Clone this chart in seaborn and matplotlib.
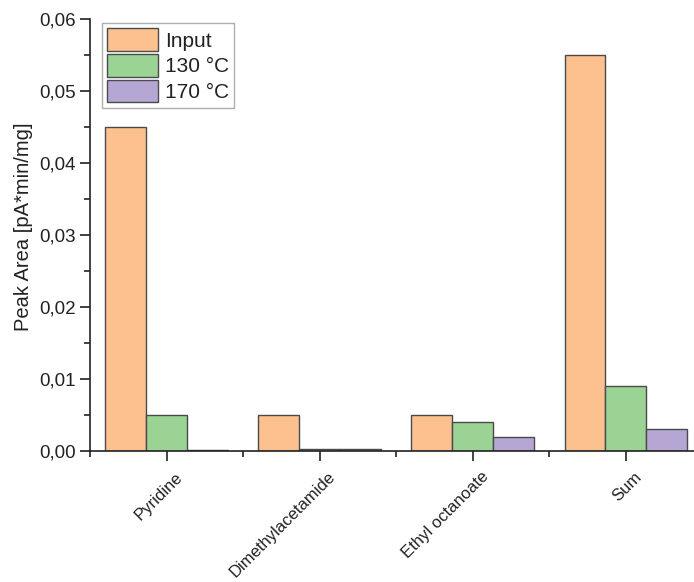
import matplotlib
matplotlib.use("Agg")
import matplotlib.pyplot as plt
from matplotlib.ticker import MultipleLocator, FuncFormatter
from matplotlib.transforms import ScaledTranslation
import seaborn as sns
import pandas as pd

# Peak areas per compound and condition
compounds = ["Pyridine", "Dimethylacetamide", "Ethyl octanoate", "Sum"]
conditions = ["Input", "130 °C", "170 °C"]
input_area = [0.045, 0.005, 0.005, 0.055]
area_130 = [0.005, 0.0003, 0.004, 0.009]
area_170 = [0.0001, 0.0003, 0.002, 0.003]

rows = []
for series_name, values in zip(conditions, [input_area, area_130, area_170]):
    for comp, v in zip(compounds, values):
        rows.append({"Compound": comp, "Condition": series_name, "Area": v})
df = pd.DataFrame(rows)

sns.set_theme(style="ticks")
plt.rcParams["font.family"] = ["Liberation Sans", "DejaVu Sans"]

palette = {"Input": "#FDC18F", "130 °C": "#9AD394", "170 °C": "#B6A6D3"}

fig = plt.figure(figsize=(6.94, 5.82), dpi=100)
ax = fig.add_axes([90 / 694, 1 - 451 / 582, 1 - 90 / 694 + 0.012, (451 - 19) / 582])

sns.barplot(data=df, x="Compound", y="Area", hue="Condition", order=compounds,
            hue_order=conditions, palette=palette, width=0.8, saturation=1,
            edgecolor="#4a4a4a", linewidth=1.0, ax=ax)

ax.set_ylim(0, 0.06)
ax.set_xlim(-0.5, 3.5)
ax.yaxis.set_major_locator(MultipleLocator(0.01))
ax.yaxis.set_minor_locator(MultipleLocator(0.005))
ax.yaxis.set_major_formatter(FuncFormatter(lambda v, _: f"{v:.2f}".replace(".", ",")))
ax.set_xticks(range(len(compounds)))
ax.set_xticks([-0.5, 0.5, 1.5, 2.5], minor=True)

ax.tick_params(axis="both", which="major", direction="out", length=7, width=1.2,
               colors="#222222", labelcolor="#222222")
ax.tick_params(axis="both", which="minor", direction="out", length=4, width=1.2,
               colors="#222222")
ax.tick_params(axis="y", labelsize=13.5)
ax.tick_params(axis="x", pad=4)

ax.set_xticklabels(compounds, rotation=45, ha="right", rotation_mode="anchor",
                   fontsize=12)
# nudge the rotated category labels right and down
shift = ScaledTranslation(8 / 100, -3 / 100, fig.dpi_scale_trans)
for lbl in ax.get_xticklabels():
    lbl.set_transform(lbl.get_transform() + shift)

ax.set_xlabel("")
ax.set_ylabel("Peak Area [pA*min/mg]", fontsize=14.5, color="#222222")
ax.yaxis.set_label_coords(-0.093, 0.52)

for side in ("top", "right"):
    ax.spines[side].set_visible(False)
for side in ("left", "bottom"):
    ax.spines[side].set_linewidth(1.2)
    ax.spines[side].set_color("#222222")

leg = ax.legend(loc="upper left", bbox_to_anchor=(0.012, 1.0), fontsize=15,
                frameon=True, fancybox=False, edgecolor="#9a9a9a",
                handlelength=2.45, handleheight=1.3, labelspacing=0.14,
                handletextpad=0.35, borderpad=0.25, borderaxespad=0.2)
leg.get_frame().set_linewidth(1.0)
for t in leg.get_texts():
    t.set_color("#222222")

fig.savefig("out.png", dpi=100)
